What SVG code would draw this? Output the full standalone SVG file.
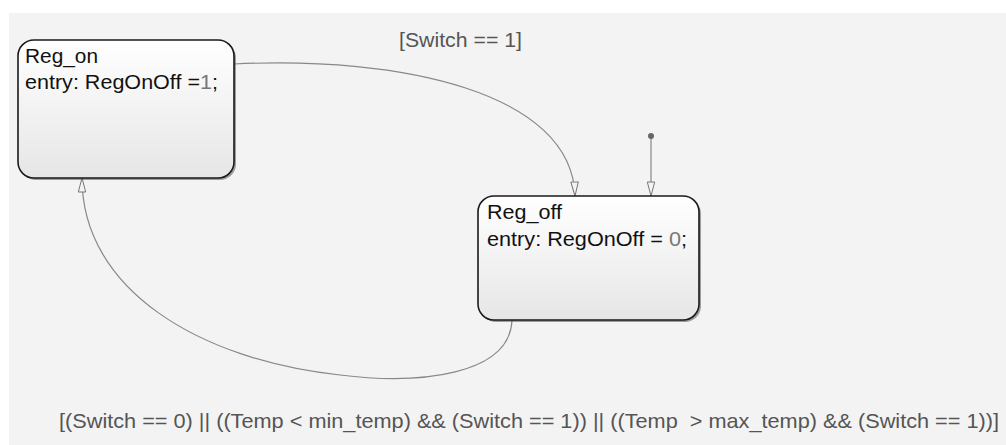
<svg xmlns="http://www.w3.org/2000/svg" width="1006" height="445" viewBox="0 0 1006 445">
<style>
text{font-family:"Liberation Sans",Arial,sans-serif;font-size:21px}
.st{fill:url(#g);stroke:#1a1a1a;stroke-width:1.6}
.sh{fill:#555;opacity:.55}
.t{fill:#111}
.num{fill:#777}
.lbl{fill:#555}
.tr{fill:none;stroke:#888;stroke-width:1.2}
</style>
<defs>
<linearGradient id="g" x1="0" y1="0" x2="0" y2="1">
<stop offset="0" stop-color="#ffffff"/>
<stop offset="1" stop-color="#e6e6e6"/>
</linearGradient>
<marker id="ah" markerWidth="16" markerHeight="9" refX="15" refY="4.5" orient="auto" markerUnits="userSpaceOnUse" viewBox="0 0 16 9">
<path d="M1,0.8 L15,4.5 L1,8.2 Z" fill="#f3f3f3" stroke="#777" stroke-width="1"/>
</marker>
</defs>
<rect x="0" y="0" width="1006" height="445" fill="#ffffff"/>
<rect x="9" y="13" width="997" height="432" fill="#f3f3f3"/>
<g id="connectors">
<path class="tr" d="M234,64 C400,56 572,92 575,196" marker-end="url(#ah)"/>
<path class="tr" d="M651,136 L651,196" marker-end="url(#ah)"/>
<circle cx="651" cy="136" r="3" fill="#666"/>
<path class="tr" d="M512,320 C510,375 420,385 340,375 C200,360 82,290 82,178" marker-end="url(#ah)"/>
<text class="lbl" x="399" y="47" textLength="123" lengthAdjust="spacingAndGlyphs">[Switch == 1]</text>
<text class="lbl" x="59" y="428" textLength="940" lengthAdjust="spacingAndGlyphs" xml:space="preserve">[(Switch == 0) || ((Temp &lt; min_temp) &amp;&amp; (Switch == 1)) || ((Temp  &gt; max_temp) &amp;&amp; (Switch == 1))]</text>
</g>
<g id="Reg_on">
<rect class="sh" x="20" y="42" width="216" height="138" rx="16"/>
<rect class="st" x="18" y="40" width="216" height="138" rx="16"/>
<text class="t" x="25" y="63" textLength="73" lengthAdjust="spacingAndGlyphs">Reg_on</text>
<text class="t" x="25" y="89" textLength="193" lengthAdjust="spacingAndGlyphs">entry: RegOnOff =<tspan class="num">1</tspan>;</text>
</g>
<g id="Reg_off">
<rect class="sh" x="480" y="198" width="221" height="124" rx="16"/>
<rect class="st" x="478" y="196" width="221" height="124" rx="16"/>
<text class="t" x="487" y="219" textLength="75" lengthAdjust="spacingAndGlyphs">Reg_off</text>
<text class="t" x="487" y="246" textLength="200" lengthAdjust="spacingAndGlyphs">entry: RegOnOff = <tspan class="num">0</tspan>;</text>
</g>
</svg>
